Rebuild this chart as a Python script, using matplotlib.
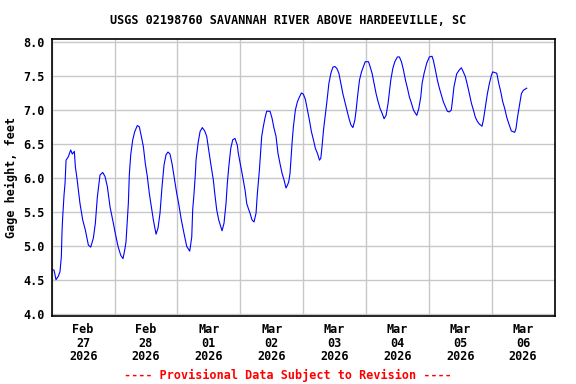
import numpy as np
import pandas as pd
import matplotlib
matplotlib.use("Agg")
import matplotlib.pyplot as plt
import matplotlib.dates as mdates
from matplotlib.ticker import MultipleLocator, FormatStrFormatter

TITRE = "USGS 02198760 SAVANNAH RIVER ABOVE HARDEEVILLE, SC"
LABEL_Y = "Gage height, feet"
AVERTISSEMENT = "---- Provisional Data Subject to Revision ----"
DEBUT = "2026-02-27"
FIN = "2026-03-07"

# jours depuis le 27 fev 00:00
jours = [
    0.000, 0.037, 0.068, 0.105, 0.132, 0.153, 0.164, 0.175, 0.196, 0.212,
    0.228, 0.264, 0.302, 0.328, 0.360, 0.376, 0.398, 0.450, 0.493, 0.535,
    0.583, 0.620, 0.662, 0.694, 0.726, 0.768, 0.811, 0.848, 0.885, 0.928,
    0.970, 1.012, 1.055, 1.098, 1.134, 1.166, 1.182, 1.203, 1.219, 1.235,
    1.257, 1.289, 1.321, 1.362, 1.394, 1.426, 1.458, 1.489, 1.521, 1.553,
    1.585, 1.617, 1.660, 1.691, 1.723, 1.755, 1.787, 1.819, 1.850, 1.882,
    1.914, 1.946, 1.989, 2.020, 2.062, 2.105, 2.148, 2.196, 2.228, 2.243,
    2.264, 2.285, 2.296, 2.328, 2.360, 2.396, 2.434, 2.466, 2.498, 2.530,
    2.571, 2.594, 2.625, 2.657, 2.710, 2.741, 2.773, 2.794, 2.816, 2.848,
    2.880, 2.916, 2.953, 2.969, 3.028, 3.076, 3.103, 3.128, 3.155, 3.187,
    3.219, 3.251, 3.272, 3.304, 3.341, 3.366, 3.393, 3.420, 3.473, 3.505,
    3.537, 3.569, 3.600, 3.632, 3.664, 3.696, 3.728, 3.749, 3.771, 3.792,
    3.824, 3.845, 3.877, 3.909, 3.941, 3.973, 4.005, 4.037, 4.069, 4.100,
    4.132, 4.164, 4.196, 4.228, 4.260, 4.282, 4.303, 4.324, 4.356, 4.378,
    4.410, 4.442, 4.474, 4.505, 4.537, 4.569, 4.600, 4.632, 4.664, 4.696,
    4.728, 4.760, 4.792, 4.823, 4.844, 4.865, 4.897, 4.929, 4.961, 4.988,
    5.040, 5.065, 5.097, 5.129, 5.161, 5.193, 5.225, 5.257, 5.288, 5.320,
    5.352, 5.373, 5.395, 5.427, 5.459, 5.500, 5.532, 5.564, 5.596, 5.628,
    5.660, 5.691, 5.723, 5.755, 5.787, 5.809, 5.840, 5.872, 5.893, 5.925,
    5.967, 6.009, 6.051, 6.072, 6.104, 6.136, 6.168, 6.199, 6.231, 6.263,
    6.295, 6.327, 6.358, 6.380, 6.400, 6.422, 6.443, 6.464, 6.486, 6.518,
    6.549, 6.581, 6.613, 6.645, 6.677, 6.709, 6.741, 6.773, 6.805, 6.847,
    6.868, 6.900, 6.932, 6.964, 6.996, 7.017, 7.049, 7.081, 7.113, 7.144,
    7.176, 7.208, 7.240, 7.272, 7.313, 7.367, 7.388, 7.409, 7.430, 7.451,
    7.473, 7.505, 7.558,
]

hauteur = [
    4.65, 4.64, 4.50, 4.55, 4.62, 4.84, 5.21, 5.43, 5.75, 5.92,
    6.26, 6.31, 6.41, 6.35, 6.39, 6.16, 6.02, 5.62, 5.38, 5.23,
    5.01, 4.98, 5.11, 5.33, 5.72, 6.04, 6.08, 6.02, 5.87, 5.57,
    5.38, 5.18, 4.99, 4.86, 4.81, 4.96, 5.06, 5.38, 5.62, 6.05,
    6.34, 6.56, 6.68, 6.77, 6.75, 6.61, 6.46, 6.21, 6.02, 5.77,
    5.57, 5.38, 5.17, 5.26, 5.48, 5.87, 6.19, 6.34, 6.38, 6.35,
    6.21, 6.02, 5.77, 5.62, 5.38, 5.18, 4.99, 4.92, 5.13, 5.53,
    5.77, 6.05, 6.26, 6.51, 6.68, 6.74, 6.69, 6.61, 6.41, 6.21,
    5.97, 5.77, 5.53, 5.38, 5.22, 5.33, 5.62, 5.92, 6.15, 6.43,
    6.56, 6.58, 6.48, 6.36, 6.07, 5.82, 5.62, 5.55, 5.48, 5.38,
    5.35, 5.48, 5.77, 6.11, 6.61, 6.75, 6.88, 6.98, 6.98, 6.88,
    6.73, 6.61, 6.36, 6.21, 6.07, 5.97, 5.85, 5.89, 5.94, 6.07,
    6.51, 6.75, 7.00, 7.12, 7.19, 7.25, 7.23, 7.15, 7.00, 6.85,
    6.68, 6.56, 6.43, 6.36, 6.26, 6.29, 6.48, 6.70, 6.95, 7.12,
    7.39, 7.54, 7.63, 7.64, 7.61, 7.54, 7.39, 7.24, 7.12, 7.00,
    6.88, 6.78, 6.74, 6.85, 7.00, 7.19, 7.44, 7.56, 7.64, 7.71,
    7.71, 7.64, 7.54, 7.39, 7.24, 7.12, 7.02, 6.95, 6.87, 6.92,
    7.10, 7.27, 7.44, 7.61, 7.71, 7.78, 7.78, 7.71, 7.59, 7.44,
    7.32, 7.19, 7.10, 7.00, 6.95, 6.92, 7.02, 7.19, 7.39, 7.54,
    7.69, 7.78, 7.79, 7.73, 7.59, 7.44, 7.32, 7.22, 7.12, 7.05,
    6.98, 6.97, 7.00, 7.17, 7.34, 7.44, 7.53, 7.56, 7.59, 7.62,
    7.56, 7.49, 7.37, 7.24, 7.10, 7.00, 6.89, 6.83, 6.79, 6.76,
    6.85, 7.05, 7.24, 7.39, 7.51, 7.56, 7.55, 7.54, 7.39, 7.27,
    7.12, 7.02, 6.89, 6.80, 6.69, 6.67, 6.73, 6.88, 7.00, 7.12,
    7.24, 7.29, 7.32,
]

POLICE = "DejaVu Sans Mono"
TAILLE = 8.5

temps = pd.Timestamp(DEBUT) + pd.to_timedelta(np.array(jours), unit="D")

fig = plt.figure(figsize=(5.76, 3.84), dpi=100)
ax = fig.add_axes([0.0898, 0.1779, 0.8729, 0.7198])

ax.plot(temps, hauteur, color="#0000ff", linewidth=0.8)

ax.set_xlim(pd.Timestamp(DEBUT), pd.Timestamp(FIN))
ax.set_ylim(3.97, 8.04)

# grille a minuit, etiquettes a midi
ax.xaxis.set_major_locator(mdates.DayLocator())
ax.xaxis.set_major_formatter(plt.NullFormatter())
ax.xaxis.set_minor_locator(mdates.HourLocator(byhour=[12]))
ax.xaxis.set_minor_formatter(mdates.DateFormatter("%b\n%d\n%Y"))
ax.yaxis.set_major_locator(MultipleLocator(0.5))
ax.yaxis.set_major_formatter(FormatStrFormatter("%.1f"))

ax.grid(True, which="major", color="#c8c8c8", linewidth=1.0)
ax.set_axisbelow(True)
ax.tick_params(which="both", length=0)
ax.tick_params(axis="x", which="minor", pad=5.5)
ax.tick_params(axis="y", pad=5)

for lab in ax.get_xticklabels(minor=True) + ax.get_yticklabels():
    lab.set_fontfamily(POLICE)
    lab.set_fontweight("bold")
    lab.set_fontsize(TAILLE)
for lab in ax.get_xticklabels(minor=True):
    lab.set_linespacing(1.05)

for s in ax.spines.values():
    s.set_linewidth(1.2)
    s.set_color("black")

fig.text(0.5, 1 - 20 / 384, TITRE, ha="center", va="center",
         fontfamily=POLICE, fontweight="bold", fontsize=TAILLE)
fig.text(11.7 / 576, 0.5 * (0.1779 + 0.8977), LABEL_Y, rotation=90, ha="center", va="center",
         fontfamily=POLICE, fontweight="bold", fontsize=TAILLE)
fig.text(0.5, 1 - 375 / 384, AVERTISSEMENT, ha="center", va="center", color="red",
         fontfamily=POLICE, fontweight="bold", fontsize=TAILLE)

fig.savefig("out.png", dpi=100)
